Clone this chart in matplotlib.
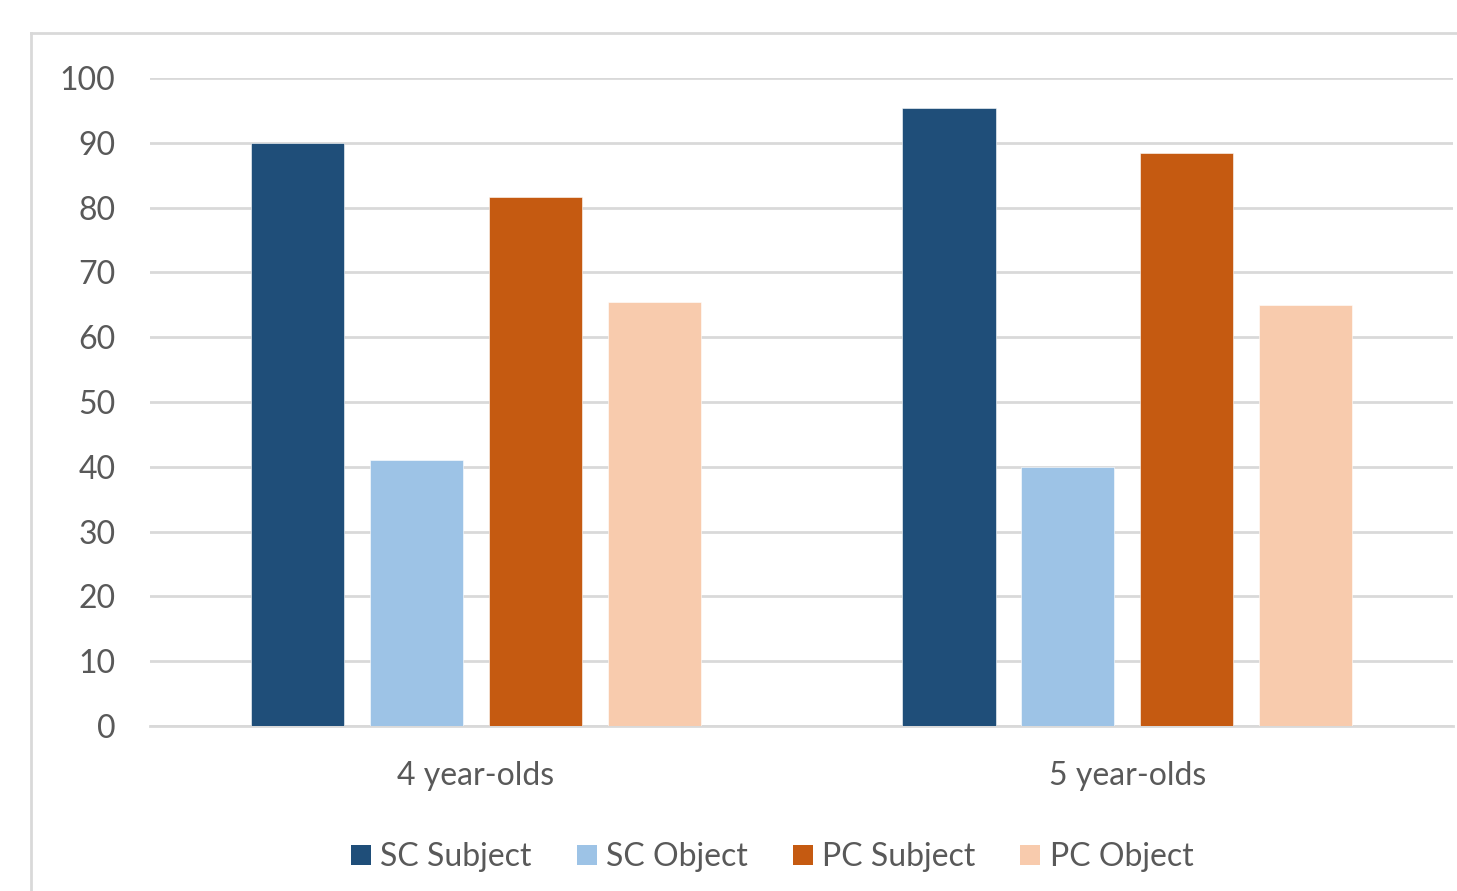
import numpy as np
import matplotlib.pyplot as plt
from matplotlib.patches import Patch
from matplotlib.lines import Line2D

# data
categories = ['4 year-olds', '5 year-olds']
series = ['SC Subject', 'SC Object', 'PC Subject', 'PC Object']
sc_subject = [90, 95.4]
sc_object = [41, 40]
pc_subject = [81.7, 88.4]
pc_object = [65.5, 65]
values = [sc_subject, sc_object, pc_subject, pc_object]
colors = ['#1F4E79', '#9DC3E6', '#C55A11', '#F8CBAD']

plt.rcParams['font.family'] = ['Lato', 'DejaVu Sans']
grey = '#595959'
grid = '#d9d9d9'

fig = plt.figure(figsize=(14.57, 8.91), dpi=100)
ax = fig.add_axes([0.103, 0.1852, 0.8943, 0.7273])

x = np.arange(len(categories))
width = 0.143
step = 0.1825
for i, (name, vals) in enumerate(zip(series, values)):
    ax.bar(x + (i - 1.5) * step, vals, width, color=colors[i], label=name,
           edgecolor='white', linewidth=0.4, zorder=3)

ax.set_xlim(-0.5, 1.5)
ax.set_ylim(0, 100)
ax.set_yticks(range(0, 101, 10))
ax.set_xticks(x)
ax.set_xticklabels(categories)
ax.yaxis.grid(True, color=grid, linewidth=2, zorder=0)
ax.set_axisbelow(True)
for s in ['top', 'right', 'left']:
    ax.spines[s].set_visible(False)
ax.spines['bottom'].set_color(grid)
ax.spines['bottom'].set_linewidth(2)
ax.tick_params(axis='y', length=0, pad=25, labelsize=23, labelcolor=grey)
ax.tick_params(axis='x', length=0, pad=25.5, labelsize=23, labelcolor=grey)

# chart frame (cropped on right and bottom)
fig.add_artist(Line2D([31 / 1457, 1.0], [1 - 33 / 891, 1 - 33 / 891], color=grid, lw=2))
fig.add_artist(Line2D([31 / 1457, 31 / 1457], [0, 1 - 33 / 891], color=grid, lw=2))

handles = [Patch(facecolor=c, edgecolor='none') for c in colors]
leg = fig.legend(handles, series, loc='center', bbox_to_anchor=(0.530, 0.038),
                 ncol=4, frameon=False, fontsize=23, handlelength=0.62,
                 handleheight=0.62, handletextpad=0.3, columnspacing=1.4)
for t in leg.get_texts():
    t.set_color(grey)

fig.savefig('out.png', dpi=100)
